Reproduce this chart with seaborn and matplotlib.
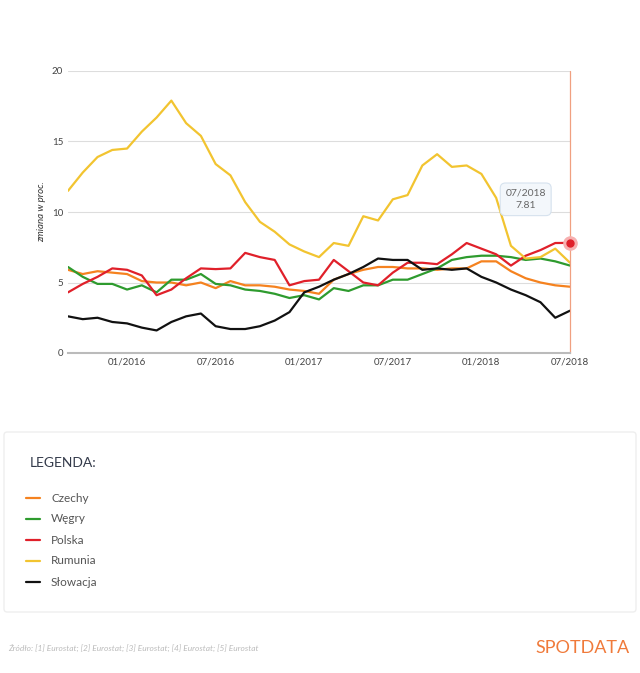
import seaborn as sns
import matplotlib.pyplot as plt
import pandas as pd
from matplotlib.patches import FancyBboxPatch

# miesiace 09/2015 - 07/2018
miesiace = list(range(35))
tick_pos = [4, 10, 16, 22, 28, 34]
tick_labels = ['01/2016', '07/2016', '01/2017', '07/2017', '01/2018', '07/2018']

czechy = [5.9, 5.6, 5.8, 5.7, 5.6, 5.1, 5.0, 5.0, 4.8, 5.0, 4.6, 5.1, 4.8, 4.8, 4.7, 4.5, 4.4, 4.2,
          5.2, 5.6, 5.9, 6.1, 6.1, 6.0, 6.0, 5.9, 6.0, 6.0, 6.5, 6.5, 5.8, 5.3, 5.0, 4.8, 4.7]
wegry = [6.1, 5.4, 4.9, 4.9, 4.5, 4.8, 4.3, 5.2, 5.2, 5.6, 4.9, 4.8, 4.5, 4.4, 4.2, 3.9, 4.1, 3.8,
         4.6, 4.4, 4.8, 4.8, 5.2, 5.2, 5.6, 6.0, 6.6, 6.8, 6.9, 6.9, 6.8, 6.6, 6.7, 6.5, 6.2]
polska = [4.3, 4.9, 5.4, 6.0, 5.9, 5.5, 4.1, 4.5, 5.3, 6.0, 5.95, 6.0, 7.1, 6.8, 6.6, 4.8, 5.1, 5.2,
          6.6, 5.8, 5.0, 4.8, 5.7, 6.4, 6.4, 6.3, 7.0, 7.8, 7.4, 7.0, 6.2, 6.9, 7.3, 7.8, 7.81]
rumunia = [11.5, 12.8, 13.9, 14.4, 14.5, 15.7, 16.7, 17.9, 16.3, 15.4, 13.4, 12.6, 10.7, 9.3, 8.6,
           7.7, 7.2, 6.8, 7.8, 7.6, 9.7, 9.4, 10.9, 11.2, 13.3, 14.1, 13.2, 13.3, 12.7, 11.0, 7.6,
           6.7, 6.8, 7.4, 6.4]
slowacja = [2.6, 2.4, 2.5, 2.2, 2.1, 1.8, 1.6, 2.2, 2.6, 2.8, 1.9, 1.7, 1.7, 1.9, 2.3, 2.9, 4.3,
            4.7, 5.2, 5.6, 6.1, 6.7, 6.6, 6.6, 5.9, 6.0, 5.9, 6.0, 5.4, 5.0, 4.5, 4.1, 3.6, 2.5, 3.0]

kraje = ['Czechy', 'Węgry', 'Polska', 'Rumunia', 'Słowacja']
kolory = ['#f5821f', '#2e9b2e', '#e0202a', '#f2c430', '#111111']
serie = [czechy, wegry, polska, rumunia, slowacja]

dane = pd.DataFrame({'miesiac': miesiace * 5,
                     'kraj': sum([[k] * 35 for k in kraje], []),
                     'wartosc': sum(serie, [])})

sns.set_style('white')
plt.rcParams['font.family'] = ['Lato', 'DejaVu Sans']

fig = plt.figure(figsize=(6.4, 6.73), dpi=100)
W, H = 640, 673
ax = fig.add_axes([68 / W, 1 - 353 / H, (570 - 68) / W, (353 - 71) / H])

sns.lineplot(data=dane, x='miesiac', y='wartosc', hue='kraj', hue_order=kraje,
             palette=kolory, linewidth=1.6, legend=False, ax=ax)

ax.set_xlim(0, 34)
ax.set_ylim(0, 20)
ax.set_yticks([0, 5, 10, 15, 20])
ax.set_xticks(tick_pos)
ax.set_xticklabels(tick_labels)
ax.tick_params(labelsize=7, colors='#444444', length=0)
ax.grid(axis='y', color='#dddddd', linewidth=0.8)
for s in ['top', 'right', 'left']:
    ax.spines[s].set_visible(False)
ax.spines['bottom'].set_color('#bbbbbb')
ax.spines['bottom'].set_linewidth(1.5)
ax.set_xlabel('')
ax.set_ylabel('zmiana w proc.', fontsize=7, style='italic', color='#333333')
ax.axvline(34, color='#f0a080', linewidth=0.9, clip_on=False)

# znacznik i dymek
ax.scatter([34], [polska[-1]], s=90, color='#f7b0b0', zorder=5, clip_on=False)
ax.scatter([34], [polska[-1]], s=25, color='#e0202a', zorder=6, clip_on=False)
ax.text(31.0, 10.9, '07/2018\n7.81', ha='center', va='center', fontsize=7.5, color='#666666',
        linespacing=1.6,
        bbox=dict(boxstyle='round,pad=0.5', fc='#f3f7fb', ec='#d6e2ee', lw=0.8))

# legenda
fig.patches.append(FancyBboxPatch((4 / W, 1 - 612 / H), 632 / W, 180 / H,
                                  boxstyle='round,pad=0,rounding_size=0.005',
                                  transform=fig.transFigure, fc='white', ec='#eeeeee', lw=1))
fig.text(30 / W, 1 - 463 / H, 'LEGENDA:', fontsize=10, color='#333a4a', va='center')
for i, (k, c) in enumerate(zip(kraje, kolory)):
    y = 1 - (498 + i * 21) / H
    fig.lines.append(plt.Line2D([26 / W, 40 / W], [y, y], color=c, lw=1.6,
                                transform=fig.transFigure))
    fig.text(51 / W, y, k, fontsize=8.5, color='#555555', va='center')

fig.text(8 / W, 1 - 648 / H,
         'Źródło: [1] Eurostat; [2] Eurostat; [3] Eurostat; [4] Eurostat; [5] Eurostat',
         fontsize=6, style='italic', color='#bbbbbb', va='center')
fig.text(630 / W, 1 - 648 / H, 'SPOTDATA', fontsize=13, color='#f07a3a', ha='right',
         va='center')

fig.savefig('out.png', dpi=100)
